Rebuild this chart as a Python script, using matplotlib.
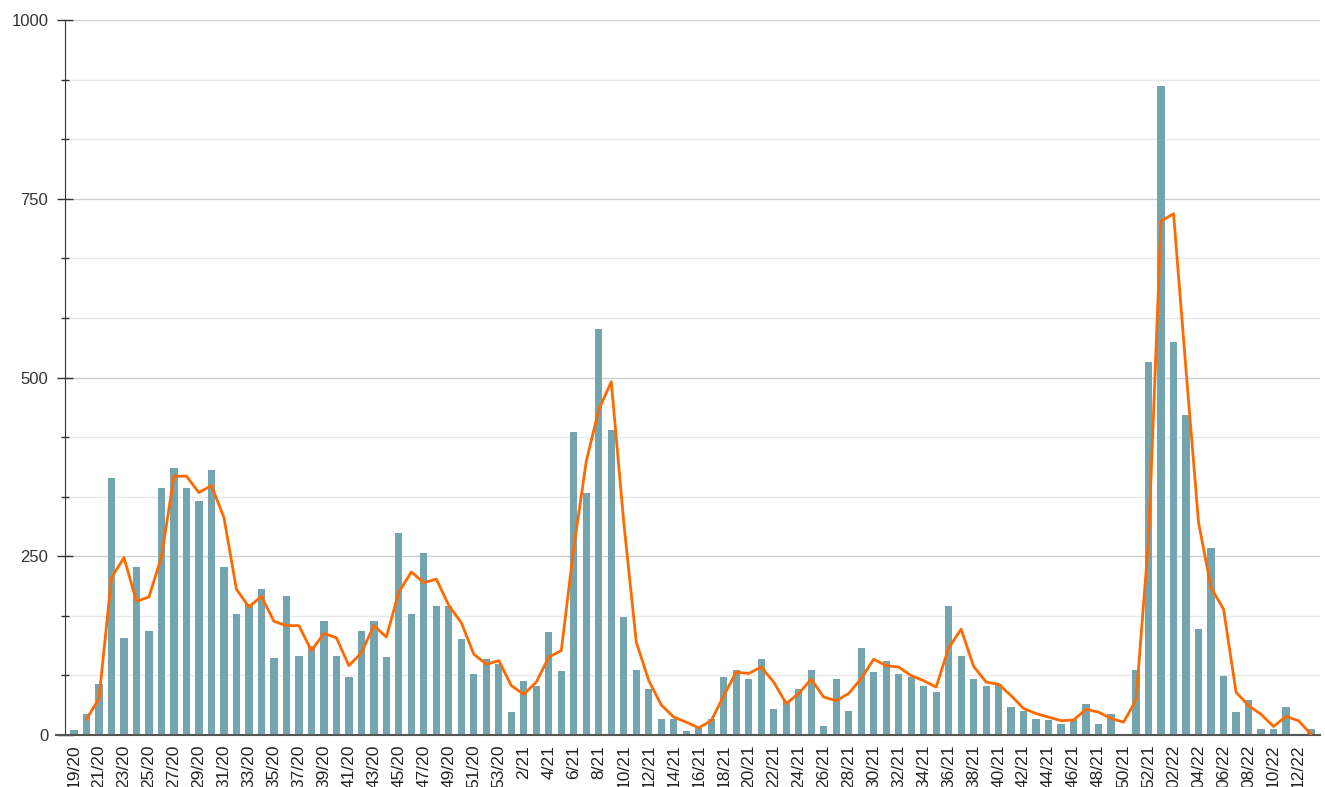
import numpy as np
import matplotlib
matplotlib.use("Agg")
import matplotlib.pyplot as plt
from matplotlib.ticker import MultipleLocator

plt.rcParams['font.family'] = ['Liberation Sans', 'DejaVu Sans']

# week labels: 19/20 .. 53/20, 1/21 .. 52/21, 01/22 .. 13/22
weeks = ([f"{w}/20" for w in range(19, 54)]
         + [f"{w}/21" for w in range(1, 53)]
         + [f"{w:02d}/22" for w in range(1, 14)])

# weekly counts (bars)
cases_2020 = [7, 30, 72, 359, 136, 235, 146, 346, 374, 346,
              327, 370, 235, 169, 183, 204, 108, 194, 110, 124,
              160, 110, 81, 146, 159, 109, 283, 169, 255, 180,
              180, 134, 85, 106, 100]
cases_2021 = [32, 76, 69, 144, 90, 424, 338, 568, 427, 165,
              91, 64, 22, 23, 6, 10, 23, 81, 91, 79,
              106, 37, 48, 64, 91, 13, 79, 34, 122, 88,
              104, 85, 81, 69, 60, 181, 111, 79, 69, 72,
              39, 34, 23, 21, 15, 22, 43, 15, 29, 2,
              91, 522]
cases_2022 = [907, 550, 448, 148, 262, 83, 32, 49, 8, 9,
              39, 0, 8]

# smoothed trend (line)
trend_2020 = [np.nan, 22, 51, 220, 248, 187, 193, 249, 362, 362,
              339, 349, 304, 204, 179, 194, 159, 153, 153, 118,
              142, 136, 97, 115, 153, 137, 200, 228, 213, 218,
              181, 157, 113, 99, 104]
trend_2021 = [69, 57, 74, 109, 118, 262, 383, 455, 494, 297,
              130, 76, 42, 25, 18, 10, 20, 55, 88, 86,
              95, 74, 44, 58, 78, 53, 48, 58, 79, 106,
              97, 95, 83, 76, 67, 122, 148, 96, 74, 71,
              55, 37, 30, 25, 20, 21, 36, 32, 23, 18,
              49, 273]
trend_2022 = [719, 729, 510, 297, 206, 176, 60, 41, 29, 12,
              26, 20, 1]

cases = np.array(cases_2020 + cases_2021 + cases_2022, dtype=float)
trend = np.array(trend_2020 + trend_2021 + trend_2022, dtype=float)
x = np.arange(len(weeks))

fig = plt.figure(figsize=(13.25, 7.87), dpi=100)
ax = fig.add_axes([65 / 1325, 52 / 787, 1255 / 1325, 715 / 787])

ax.bar(x, cases, width=0.58, color='#74a5af', zorder=2)
ax.plot(x, trend, color='#ff6a00', lw=2.0, zorder=3,
        solid_joinstyle='round', solid_capstyle='round')

ax.set_xlim(-0.72, len(weeks) - 0.28)
ax.set_ylim(0, 1000)

ax.yaxis.set_major_locator(MultipleLocator(250))
ax.yaxis.set_minor_locator(MultipleLocator(250 / 3))
ax.grid(axis='y', which='major', color='#cfcfcf', lw=1.0, zorder=0)
ax.grid(axis='y', which='minor', color='#e8e8e8', lw=1.0, zorder=0)
ax.tick_params(axis='y', which='major', direction='inout', length=12,
               width=1, color='#333333', labelsize=12, pad=6,
               labelcolor='#333333')
ax.tick_params(axis='y', which='minor', direction='inout', length=6,
               width=1, color='#333333')

ax.set_xticks(x[::2])
ax.set_xticklabels(weeks[::2], rotation=90, fontsize=12.5)
ax.tick_params(axis='x', length=0, pad=7, labelcolor='#222222')

for s in ['top', 'right']:
    ax.spines[s].set_visible(False)
ax.spines['left'].set_color('#333333')
ax.spines['bottom'].set_color('#555555')
ax.spines['bottom'].set_linewidth(1.5)
ax.plot([-0.007, 0], [0, 0], transform=ax.transAxes, color='#555555',
        lw=1.5, clip_on=False)

fig.savefig('out.png', dpi=100)
